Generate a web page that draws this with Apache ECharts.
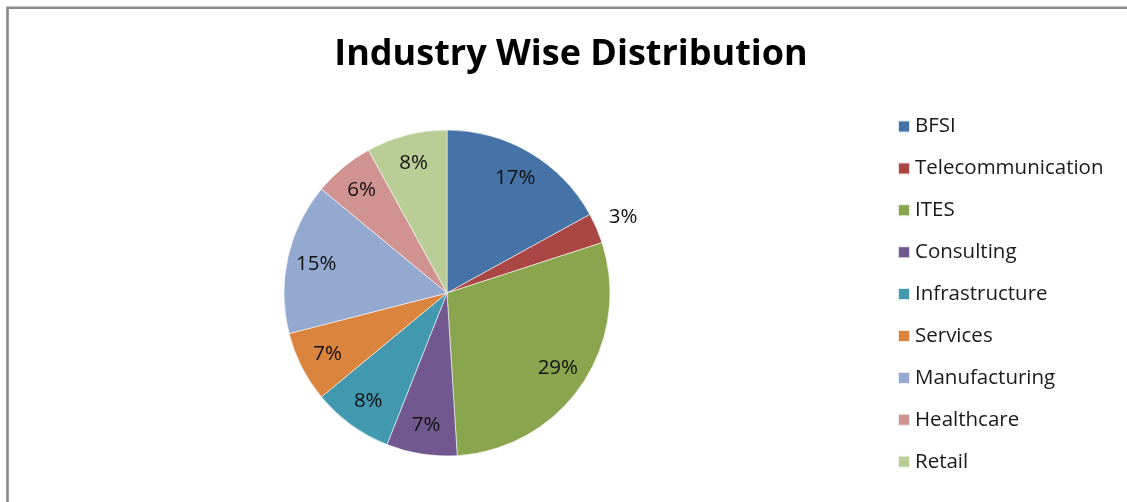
<!DOCTYPE html>
<html>
<head>
<meta charset="utf-8">
<script src="https://cdn.jsdelivr.net/npm/echarts@6/dist/echarts.min.js"></script>
<style>
html,body{margin:0;padding:0;background:#fff;}
#chart{width:1127px;height:502px;}
</style>
</head>
<body>
<div id="chart"></div>
<script>
const categories = ['BFSI','Telecommunication','ITES','Consulting','Infrastructure','Services','Manufacturing','Healthcare','Retail'];
const values = [17, 3, 29, 7, 8, 7, 15, 6, 8];
const colors = ['#4572A7','#AA4643','#89A54E','#71588F','#4198AF','#DB843D','#93A9CF','#D19392','#B9CD96'];
const outsideLabels = ['Telecommunication'];
const titleText = 'Industry Wise Distribution';

const font = '"Open Sans", "Noto Sans", sans-serif';
const center = [447, 293];

const mainData = categories.map((c, i) => ({ name: c, value: values[i], itemStyle: { color: colors[i] } }));
const innerLabelData = categories.map((c, i) => ({
  name: c, value: values[i],
  label: { show: outsideLabels.indexOf(c) < 0 }
}));
const outerLabelData = categories.map((c, i) => ({
  name: c, value: values[i],
  label: { show: outsideLabels.indexOf(c) >= 0 }
}));

const chart = echarts.init(document.getElementById('chart'), null, { renderer: 'canvas' });
const ghostBase = {
  type: 'pie',
  center: center,
  startAngle: 90,
  clockwise: true,
  silent: true,
  legendHoverLink: false,
  itemStyle: { color: 'rgba(0,0,0,0)', borderWidth: 0 },
  labelLine: { show: false },
  emphasis: { disabled: true },
  animation: false,
  tooltip: { show: false }
};
const labelStyle = { position: 'inside', formatter: '{c}%', fontFamily: font, fontSize: 20.5, color: '#111' };
chart.setOption({
  animation: false,
  graphic: [{
    type: 'rect',
    shape: { x: 7.5, y: 7.8, width: 1300, height: 700 },
    style: { fill: 'none', stroke: '#8a8a8a', lineWidth: 2.6 },
    silent: true,
    z: 100
  }],
  title: {
    text: titleText,
    left: 566,
    textAlign: 'center',
    top: 32,
    textStyle: { fontFamily: font, fontWeight: 'bold', fontSize: 36, color: '#000' }
  },
  legend: {
    orient: 'vertical',
    left: 897,
    top: 116,
    padding: 0,
    itemWidth: 12,
    itemHeight: 12,
    itemGap: 20.9,
    icon: 'rect',
    data: categories,
    selectedMode: false,
    textStyle: { fontFamily: font, fontSize: 20.5, color: '#1a1a1a', lineHeight: 20, padding: [0, 0, 0, 0] }
  },
  series: [
    {
      type: 'pie',
      center: center,
      radius: [0, 163],
      startAngle: 90,
      clockwise: true,
      data: mainData,
      label: { show: false },
      labelLine: { show: false },
      itemStyle: { borderColor: 'rgba(255,255,255,0.8)', borderWidth: 0.7 },
      emphasis: { disabled: true }
    },
    Object.assign({}, ghostBase, {
      radius: [108, 154],
      data: innerLabelData,
      label: labelStyle
    }),
    Object.assign({}, ghostBase, {
      radius: [178, 200],
      data: outerLabelData,
      label: labelStyle
    })
  ]
});
</script>
</body>
</html>
